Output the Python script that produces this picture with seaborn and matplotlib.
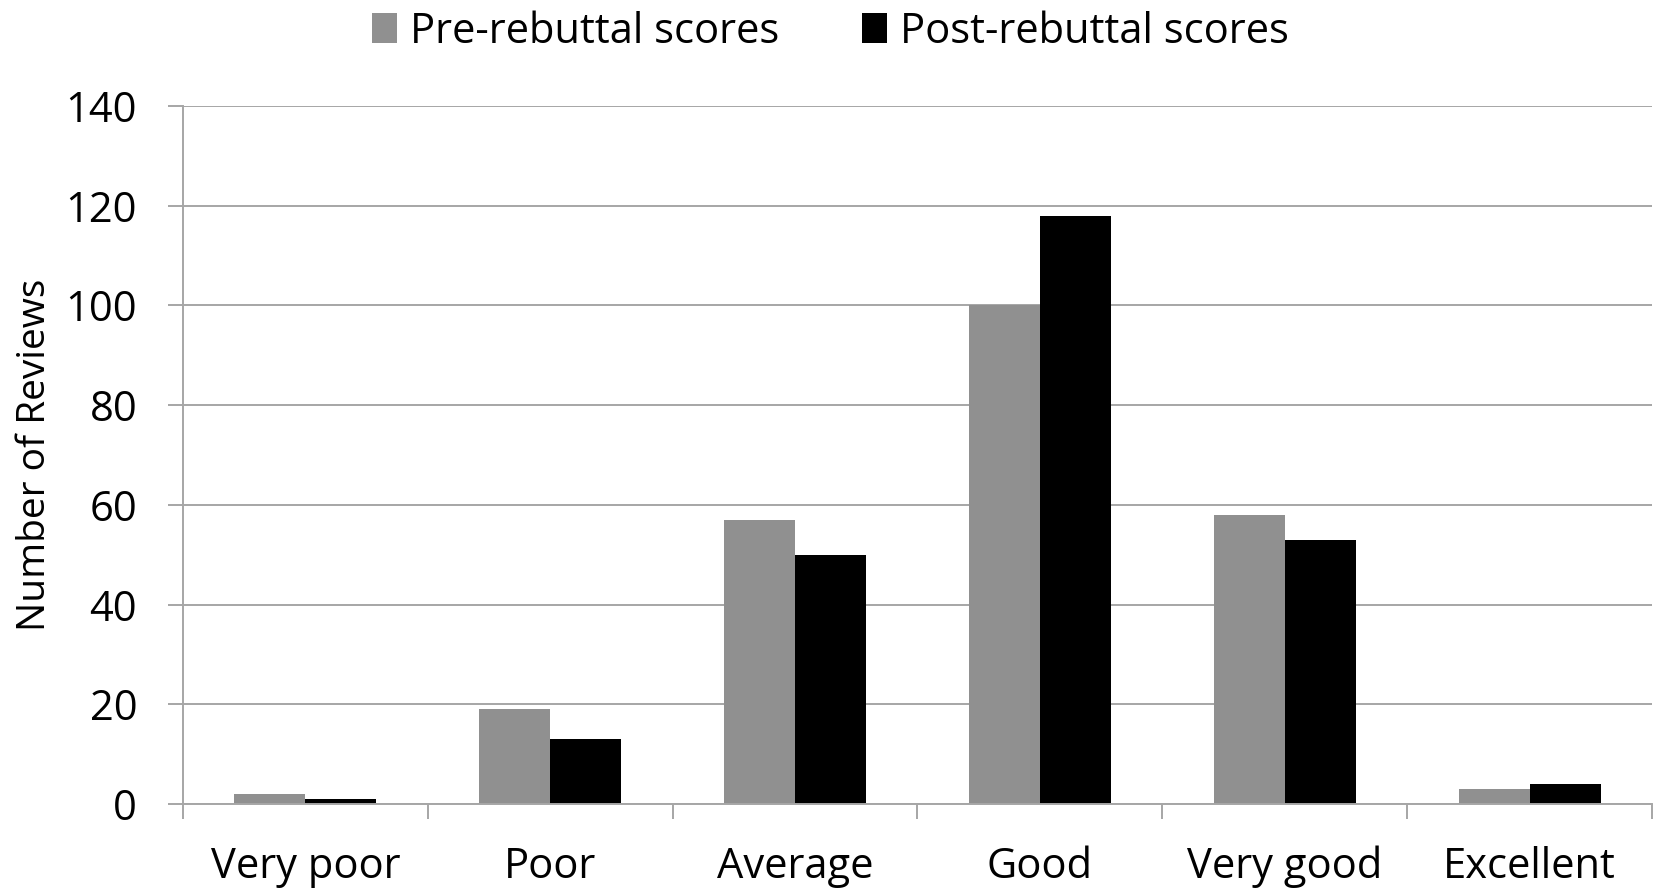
import matplotlib
matplotlib.use("Agg")
import matplotlib.pyplot as plt
import pandas as pd
import seaborn as sns

# Dados
categorias = ["Very poor", "Poor", "Average", "Good", "Very good", "Excellent"]
pre_rebuttal = [2, 19, 57, 100, 58, 3]
post_rebuttal = [1, 13, 50, 118, 53, 4]
series = ["Pre-rebuttal scores", "Post-rebuttal scores"]

df = pd.DataFrame({
    "categoria": categorias * 2,
    "valor": pre_rebuttal + post_rebuttal,
    "serie": [series[0]] * len(categorias) + [series[1]] * len(categorias),
})

sns.set_theme(style="white")
plt.rcParams['font.family'] = ['Open Sans', 'DejaVu Sans']
plt.rcParams['text.color'] = 'black'
plt.rcParams['axes.labelcolor'] = 'black'
plt.rcParams['xtick.color'] = 'black'
plt.rcParams['ytick.color'] = 'black'

grid_cor = "#a6a6a6"
fig = plt.figure(figsize=(16.61, 8.93), dpi=100)
ax = fig.add_axes([183 / 1661, 1 - 804 / 893, (1652 - 183) / 1661, (804 - 106) / 893])

sns.barplot(
    data=df, x="categoria", y="valor", hue="serie",
    palette=["#909090", "#000000"], width=0.58, gap=0,
    saturation=1, linewidth=0, ax=ax, legend=True,
)

ax.set_xlim(-0.5, 5.5)
ax.set_ylim(0, 140)
ax.set_yticks(range(0, 141, 20))
ax.yaxis.grid(True, color=grid_cor, linewidth=1.4)
ax.set_axisbelow(True)

for lado in ["top", "right"]:
    ax.spines[lado].set_visible(False)
for lado in ["left", "bottom"]:
    ax.spines[lado].set_color(grid_cor)
    ax.spines[lado].set_linewidth(1.4)

# marcas do eixo x nas fronteiras entre categorias
ax.set_xticks([i + 0.5 for i in range(-1, 6)], minor=True)
ax.tick_params(axis="x", which="minor", length=11, width=1.4, color=grid_cor, bottom=True)
ax.tick_params(axis="x", which="major", length=0, labelsize=30, pad=30, labelcolor="black")
ax.tick_params(axis="y", length=11, width=1.4, color=grid_cor, left=True, labelsize=30,
               pad=22, labelcolor="black")

ax.set_xlabel("")
ax.set_ylabel("Number of Reviews", fontsize=28, labelpad=8, color="black")

leg = ax.get_legend()
leg.remove()
handles, labels = ax.get_legend_handles_labels()
fig.legend(
    handles, labels, loc="upper center", bbox_to_anchor=(0.5, 1.03),
    ncol=2, frameon=False, fontsize=30, handlelength=0.6, handleheight=0.75,
    handletextpad=0.3, columnspacing=2.0,
)

fig.savefig("out.png", dpi=100)
